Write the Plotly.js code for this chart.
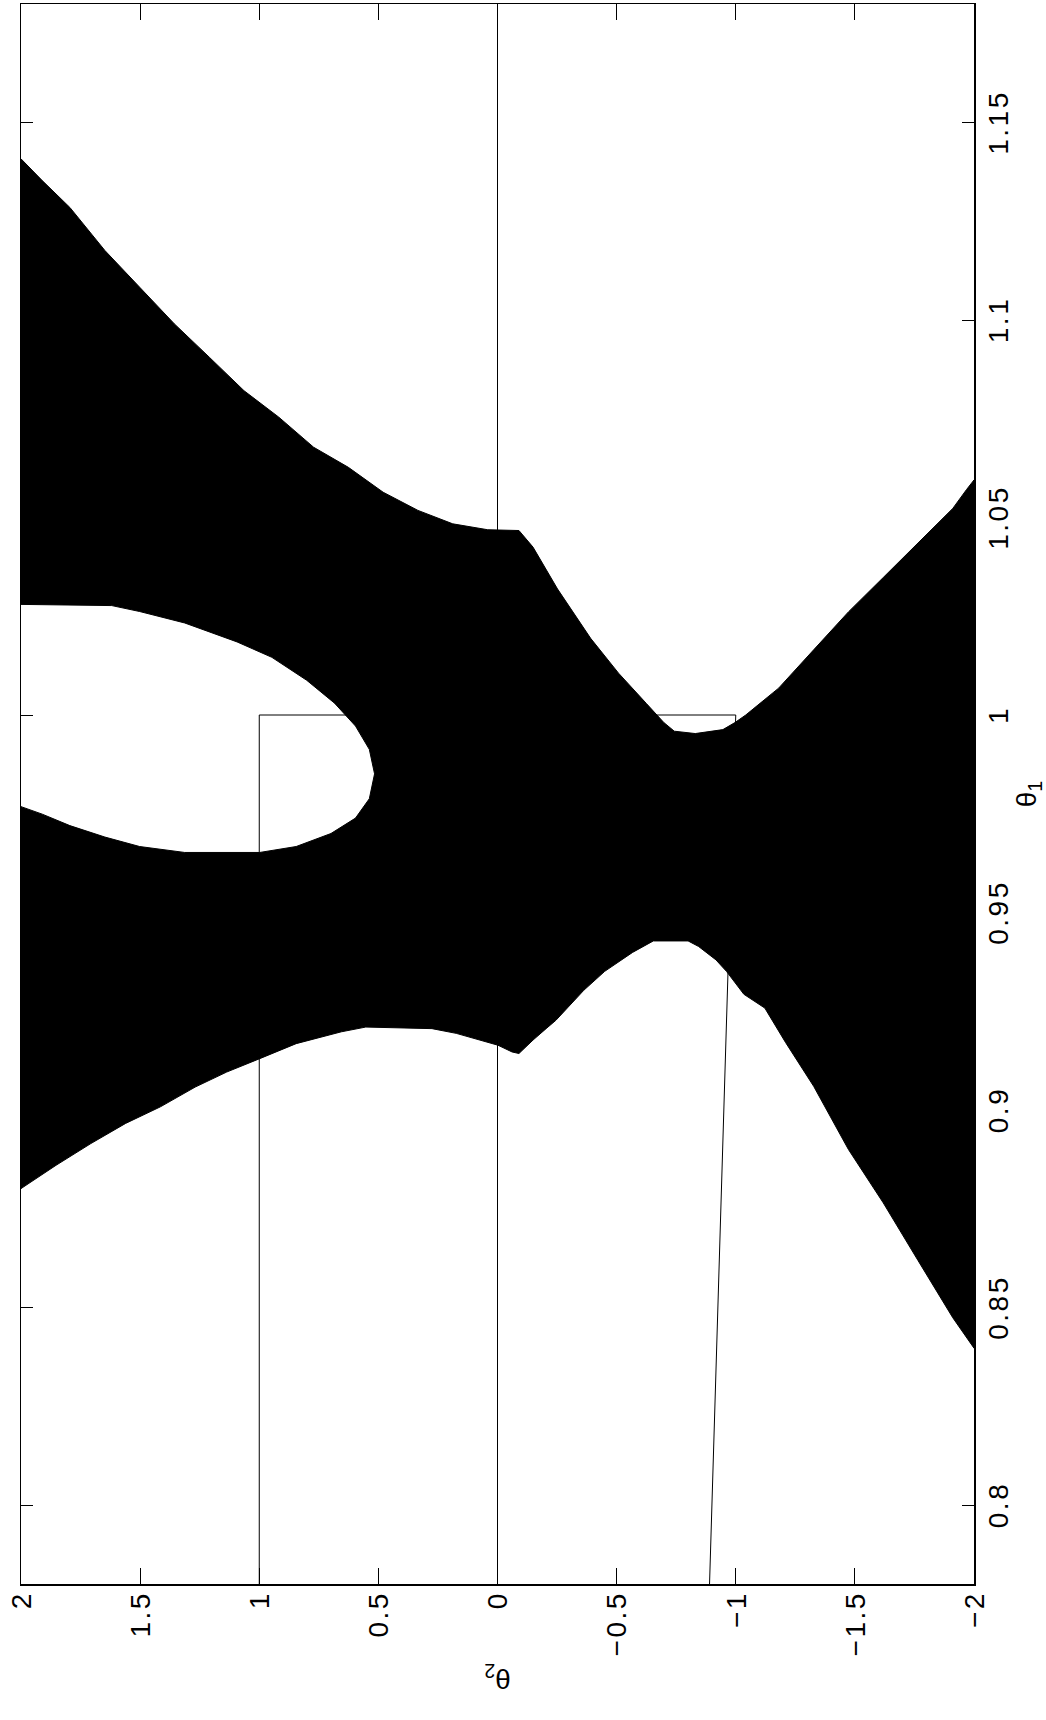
<!DOCTYPE html>
<html>
<head>
<meta charset="utf-8">
<script src="https://cdn.plot.ly/plotly-3.0.1.min.js"></script>
<style>
  html, body { margin: 0; padding: 0; background: #fff; overflow: hidden; }
  #frame { position: relative; width: 1046px; height: 1720px; overflow: hidden; }
  /* the figure is laid out landscape and turned a quarter-turn counter-clockwise */
  #chart {
    position: absolute; left: 0; top: 0;
    width: 1720px; height: 1046px;
    transform-origin: 0 0;
    transform: translate(0, 1720px) rotate(-90deg);
  }
  #chart .xtick text, #chart .ytick text { letter-spacing: 2.5px; }
</style>
</head>
<body>
<div id="frame"><div id="chart"></div></div>
<script>
// Axis ticks
const theta1Ticks = [0.8, 0.85, 0.9, 0.95, 1, 1.05, 1.1, 1.15];
const theta1TickText = ['0.8', '0.85', '0.9', '0.95', '1', '1.05', '1.1', '1.15'];
const theta2Ticks = [-2, -1.5, -1, -0.5, 0, 0.5, 1, 1.5, 2];
const theta2TickText = ['\u22122', '\u22121.5', '\u22121', '\u22120.5', '0', '0.5', '1', '1.5', '2'];

// Boundary of the shaded region (theta1, theta2), traced once around
const regionTheta1 = [
  1.1408, 1.1353, 1.1285, 1.1176, 1.1083, 1.0990, 1.0906, 1.0821, 1.0754, 1.0678,
  1.0627, 1.0564, 1.0518, 1.0484, 1.0469, 1.0467, 1.0425, 1.0319, 1.0194, 1.0106,
  1.0029, 1.0000, 0.9981, 0.9959, 0.9953, 0.9963, 0.9981, 1.0000, 1.0010, 1.0068,
  1.0165, 1.0261, 1.0348, 1.0435, 1.0523, 1.0571, 1.0595,
  0.8397, 0.8474, 0.8619, 0.8765, 0.8900, 0.9060, 0.9171, 0.9258, 0.9293, 0.9351,
  0.9380, 0.9414, 0.9428, 0.9428, 0.9399, 0.9351, 0.9303, 0.9227, 0.9206, 0.9177,
  0.9143, 0.9147, 0.9164, 0.9177, 0.9194, 0.9206, 0.9210, 0.9198, 0.9168, 0.9130,
  0.9096, 0.9058, 0.9008, 0.8966, 0.8915, 0.8860, 0.8818, 0.8801,
  0.9768, 0.9749, 0.9720, 0.9691, 0.9667, 0.9652, 0.9652, 0.9667, 0.9700, 0.9739,
  0.9788, 0.9851, 0.9913, 0.9972, 1.0030, 1.0088, 1.0146, 1.0185, 1.0233, 1.0262,
  1.0277, 1.0280
];
const regionTheta2 = [
  2.000, 1.911, 1.795, 1.648, 1.502, 1.356, 1.210, 1.064, 0.918, 0.772,
  0.626, 0.480, 0.334, 0.188, 0.041, -0.090, -0.149, -0.252, -0.391, -0.508,
  -0.625, -0.669, -0.698, -0.742, -0.830, -0.946, -0.997, -1.042, -1.063, -1.180,
  -1.327, -1.473, -1.619, -1.765, -1.911, -1.969, -2.000,
  -2.000, -1.911, -1.765, -1.619, -1.473, -1.327, -1.209, -1.122, -1.034, -0.961,
  -0.917, -0.844, -0.800, -0.654, -0.567, -0.450, -0.362, -0.245, -0.204, -0.149,
  -0.090, -0.061, -0.002, 0.071, 0.173, 0.275, 0.553, 0.655, 0.845, 0.998,
  1.137, 1.269, 1.415, 1.561, 1.707, 1.853, 1.956, 2.000,
  2.000, 1.911, 1.795, 1.648, 1.502, 1.313, 0.998, 0.845, 0.699, 0.596,
  0.538, 0.516, 0.538, 0.596, 0.684, 0.801, 0.947, 1.093, 1.313, 1.502,
  1.619, 2.000
];

// Reference lines
const centerLineTheta1 = [0.78, 1.18];
const centerLineTheta2 = [0, 0];
const pathTheta1 = [0.78, 1, 1, 0.78];
const pathTheta2 = [1, 1, -1, -0.89];

const textFont = { family: 'Liberation Sans, Arial, sans-serif', size: 28, color: '#000' };

const traces = [
  {
    type: 'scatter', mode: 'lines',
    x: regionTheta1, y: regionTheta2,
    fill: 'toself', fillcolor: '#000',
    line: { color: '#000', width: 1 },
    hoverinfo: 'skip', showlegend: false
  },
  {
    type: 'scatter', mode: 'lines',
    x: centerLineTheta1, y: centerLineTheta2,
    line: { color: '#000', width: 1 },
    hoverinfo: 'skip', showlegend: false
  },
  {
    type: 'scatter', mode: 'lines',
    x: pathTheta1, y: pathTheta2,
    line: { color: '#000', width: 1 },
    hoverinfo: 'skip', showlegend: false
  }
];

const layout = {
  width: 1720, height: 1046,
  margin: { l: 136, r: 4, t: 21, b: 72 },
  paper_bgcolor: '#fff', plot_bgcolor: '#fff',
  showlegend: false,
  xaxis: {
    range: [0.78, 1.18],
    tickvals: theta1Ticks, ticktext: theta1TickText,
    ticks: 'inside', ticklen: 12, tickwidth: 1, tickcolor: '#000',
    showline: true, linecolor: '#000', linewidth: 1.5, mirror: 'ticks',
    showgrid: false, zeroline: false,
    tickfont: textFont,
    ticklabelstandoff: -1,
    title: { text: '\u03b8<sub>1</sub>', font: textFont, standoff: 5 }
  },
  yaxis: {
    range: [-2, 2],
    tickvals: theta2Ticks, ticktext: theta2TickText,
    ticks: 'inside', ticklen: 16, tickwidth: 1, tickcolor: '#000',
    showline: true, linecolor: '#000', linewidth: 1.5, mirror: 'ticks',
    showgrid: false, zeroline: false,
    tickfont: textFont,
    ticklabelstandoff: 3.5,
    title: { text: '\u03b8<sub>2</sub>', font: textFont, standoff: 14 }
  }
};

Plotly.newPlot('chart', traces, layout, { staticPlot: true, displayModeBar: false });
</script>
</body>
</html>
